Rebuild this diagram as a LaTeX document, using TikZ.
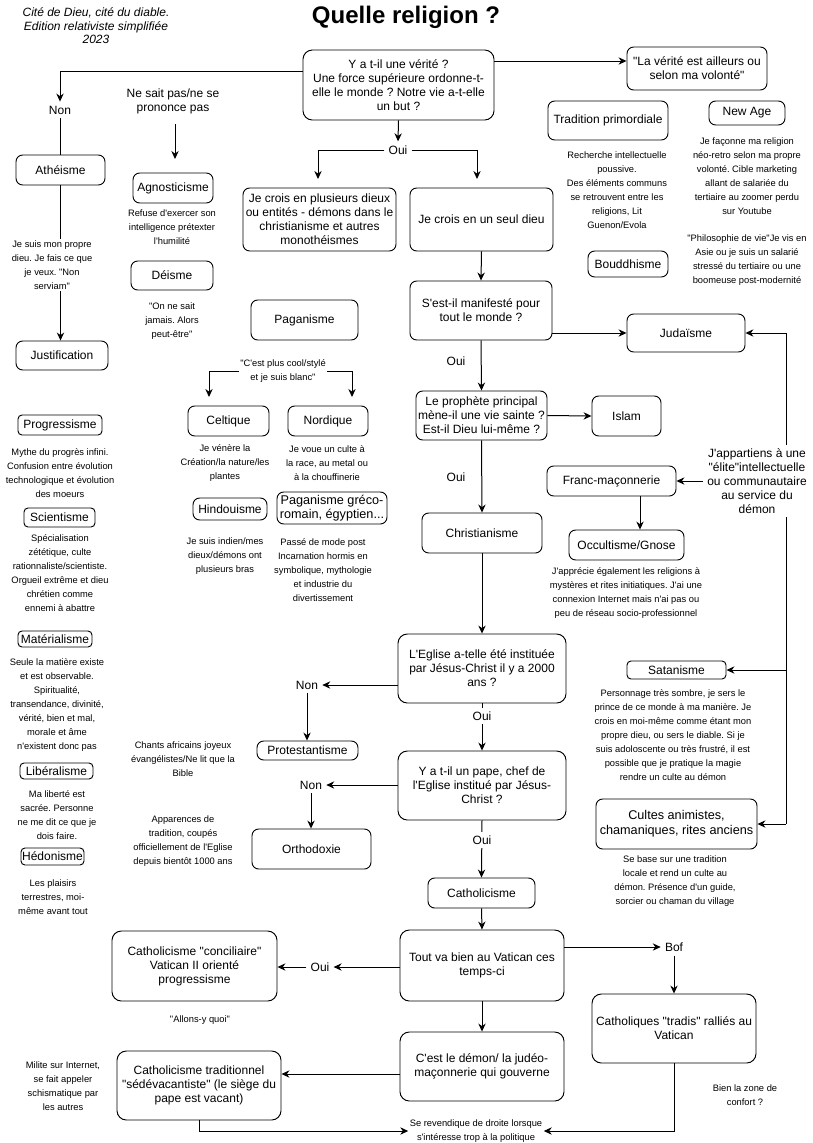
\documentclass[tikz,border=0pt]{standalone}
\usepackage{fontspec}
\newfontfamily\arialf{Liberation Sans}
\newcommand\myfs[2]{\arialf\fontsize{#1}{#2}\selectfont}
\usetikzlibrary{arrows.meta,backgrounds}
\newcommand\mkbox[7][box]{\node[#1, minimum width={(#5-#3)*0.75pt}, minimum height={(#6-#4)*0.75pt}] (#2) at ({(#3+#5)/2},{(#4+#6)/2}) {#7};}
\frenchspacing
\begin{document}
\frenchspacing
\begin{tikzpicture}[x=0.75pt,y=-0.75pt,
  font=\myfs{9}{10.5},
  box/.style={draw, line width=0.7pt, rounded corners=5pt, align=center, inner sep=0pt, font=\myfs{9}{10.5}},
  bigbox/.style={box, rounded corners=7pt},
  sbox/.style={box, rounded corners=3pt},
  bigfont/.style={font=\myfs{9.5}{11}},
  note/.style={align=center, inner sep=1pt, font=\myfs{7}{10.5}},
  lbl/.style={align=center, inner sep=3pt, fill=white, font=\myfs{9}{10.5}},
  arr/.style={line width=0.75pt, -{Stealth[length=6pt,width=5.5pt]}},
  ln/.style={line width=0.75pt}]
\useasboundingbox (0,0) rectangle (813,1143);
\begin{pgfonlayer}{background}
\fill[white] (0,0) rectangle (813,1143);
\end{pgfonlayer}

% ---------- titles
\node[font=\myfs{18}{20}\bfseries] (title) at (406,17) {Quelle religion ?};
\node[align=center, font=\myfs{9}{10.1}\itshape] (sub) at (96,26) {Cité de Dieu, cité du diable.\\ Edition relativiste simplifiée\\ 2023};

% ---------- top
\mkbox[bigbox]{q1}{303}{50}{494}{120}{Y a t-il une vérité ?\\ Une force supérieure ordonne-t-\\ elle le monde ? Notre vie a-t-elle\\ un but ?}
\mkbox{verite}{627}{47}{767}{90}{"La vérité est ailleurs ou\\ selon ma volonté"}
\mkbox{trad}{548}{101}{668}{140}{Tradition primordiale}
\node[note] (tradtxt) at (617,190) {Recherche intellectuelle\\ poussive.\\ Des éléments communs\\ se retrouvent entre les\\ religions, Lit\\ Guenon/Evola};
\mkbox{boud}{588}{251}{668}{277}{Bouddhisme}
\mkbox{newage}{709}{101}{785}{125}{New Age}
\node[note] (newagetxt) at (747,176) {Je façonne ma religion\\ néo-retro selon ma propre\\ volonté. Cible marketing\\ allant de salariée du\\ tertiaire au zoomer perdu\\ sur Youtube};
\node[note] (boudtxt) at (747,260) {"Philosophie de vie"Je vis en\\ Asie ou je suis un salarié\\ stressé du tertiaire ou une\\ boomeuse post-modernité};

% ---------- left top
\node[lbl] (non1) at (60,110) {Non};
\node[align=center] (nsp) at (173,101) {Ne sait pas/ne se\\ prononce pas};
\coordinate (agnoarr) at (175,159);
\mkbox{athe}{16}{155}{105}{185}{Athéisme}
\mkbox{agno}{133}{173}{213}{203}{Agnosticisme}
\node[note] (agnotxt) at (172,227) {Refuse d'exercer son\\ intelligence prétexter\\ l'humilité};
\mkbox{deisme}{131}{261}{213}{290}{Déisme}
\node[note] (deismetxt) at (172,321) {"On ne sait\\ jamais. Alors\\ peut-être"};
\node[note, fill=white] (athetxt) at (52,265) {Je suis mon propre\\ dieu. Je fais ce que\\ je veux. "Non\\ serviam"};
\mkbox{justif}{16}{341}{108}{370}{Justification}

% ---------- centre top
\node[lbl] (oui1) at (398,150) {Oui};
\coordinate (plusarr) at (318,179);
\coordinate (seularr) at (477,179);
\mkbox{plus}{243}{188}{396}{251}{Je crois en plusieurs dieux\\ ou entités - démons dans le\\ christianisme et autres\\ monothéismes}
\mkbox{seul}{410}{188}{553}{251}{Je crois en un seul dieu}
\mkbox{pagan}{251}{300}{358}{340}{Paganisme}
\node[note] (cool) at (283,371) {"C'est plus cool/stylé\\ et je suis blanc"};
\coordinate (celtarr) at (209,397);
\coordinate (nordarr) at (352,397);
\mkbox{celt}{188}{406}{269}{436}{Celtique}
\mkbox{nord}{288}{406}{368}{436}{Nordique}
\node[note] (celttxt) at (225,463) {Je vénère la\\ Création/la nature/les\\ plantes};
\node[note] (nordtxt) at (327,463) {Je voue un culte à\\ la race, au metal ou\\ à la chouffinerie};
\mkbox{hindou}{193}{498}{267}{520}{Hindouisme}
\mkbox[box,bigfont]{greco}{277}{492}{387}{524}{Paganisme gréco-\\ romain, égyptien...}
\node[note] (hindoutxt) at (225,556) {Je suis indien/mes\\ dieux/démons ont\\ plusieurs bras};
\node[note] (grecotxt) at (323,570) {Passé de mode post\\ Incarnation hormis en\\ symbolique, mythologie\\ et industrie du\\ divertissement};

% ---------- right centre
\mkbox{manif}{410}{281}{552}{340}{S'est-il manifesté pour\\ tout le monde ?}
\mkbox{juda}{627}{314}{745}{352}{Judaïsme}
\node[align=center] (oui2) at (456,361) {Oui};
\mkbox{proph}{416}{391}{547}{440}{Le prophète principal\\ mène-il une vie sainte ?\\ Est-il Dieu lui-même ?}
\mkbox{islam}{592}{396}{661}{436}{Islam}
\node[align=center] (oui3) at (456,477) {Oui};
\mkbox{christ}{422}{513}{542}{553}{Christianisme}
\node[lbl] (elite) at (757,481) {J'appartiens à une\\ "élite"intellectuelle\\ ou communautaire\\ au service du\\ démon};
\mkbox{franc}{547}{466}{676}{496}{Franc-maçonnerie}
\mkbox{occ}{569}{530}{684}{560}{Occultisme/Gnose}
\node[note] (occtxt) at (626,593) {J'apprécie également les religions à\\ mystères et rites initiatiques. J'ai une\\ connexion Internet mais n'ai pas ou\\ peu de réseau socio-professionnel};
\coordinate (rv) at (786,0);
\coordinate (fo) at (640,0);

% ---------- lower centre
\mkbox[bigbox]{eglise}{398}{634}{566}{703}{L'Eglise a-telle été instituée\\ par Jésus-Christ il y a 2000\\ ans ?}
\node[lbl] (non2) at (307,685) {Non};
\mkbox{protest}{257}{741}{358}{760}{Protestantisme}
\node[note] (chants) at (183,759) {Chants africains joyeux\\ évangélistes/Ne lit que la\\ Bible};
\node[lbl] (oui4) at (482,716) {Oui};
\mkbox[bigbox]{pape}{398}{751}{566}{820}{Y a t-il un pape, chef de\\ l'Eglise institué par Jésus-\\ Christ ?}
\node[lbl] (non3) at (311,785) {Non};
\mkbox{ortho}{252}{829}{371}{869}{Orthodoxie}
\node[note] (appar) at (183,841) {Apparences de\\ tradition, coupés\\ officiellement de l'Eglise\\ depuis bientôt 1000 ans};
\node[lbl] (oui5) at (482,840) {Oui};
\mkbox{catho}{428}{878}{535}{908}{Catholicisme}

% ---------- right lower
\mkbox[sbox]{satan}{627}{661}{726}{679}{Satanisme}
\node[note] (satantxt) at (673,735) {Personnage très sombre, je sers le\\ prince de ce monde à ma manière. Je\\ crois en moi-même comme étant mon\\ propre dieu, ou sers le diable. Si je\\ suis adoloscente ou très frustré, il est\\ possible que je pratique la magie\\ rendre un culte au démon};
\mkbox[box,bigfont]{cultes}{596}{799}{757}{849}{Cultes animistes,\\ chamaniques, rites anciens}
\node[note] (cultestxt) at (675,881) {Se base sur une tradition\\ locale et rend un culte au\\ démon. Présence d'un guide,\\ sorcier ou chaman du village};

% ---------- bottom
\mkbox[bigbox]{vatican}{400}{930}{564}{1001}{Tout va bien au Vatican ces\\ temps-ci}
\node[lbl] (bof) at (674,947) {Bof};
\mkbox[bigbox]{tradis}{592}{994}{756}{1063}{Catholiques "tradis" ralliés au\\ Vatican}
\node[note] (zone) at (745,1095) {Bien la zone de\\ confort ?};
\node[lbl] (oui6) at (320,967) {Oui};
\mkbox[bigbox]{concil}{112}{931}{277}{1001}{Catholicisme "conciliaire"\\ Vatican II orienté\\ progressisme}
\node[note] (allons) at (200,1020) {"Allons-y quoi"};
\mkbox[bigbox]{demon}{400}{1032}{564}{1101}{C'est le démon/ la judéo-\\ maçonnerie qui gouverne}
\mkbox[bigbox]{sedev}{117}{1051}{281}{1120}{Catholicisme traditionnel\\ "sédévacantiste" (le siège du\\ pape est vacant)}
\node[note] (milite) at (63,1086) {Milite sur Internet,\\ se fait appeler\\ schismatique par\\ les autres};
\node[note] (droite) at (476,1131) {Se revendique de droite lorsque\\ s'intéresse trop à la politique};
\coordinate (ds) at (0,1074);
\coordinate (qn) at (60,71);
\coordinate (qv) at (0,61);

% ---------- left column
\mkbox[sbox]{progr}{18}{415}{102}{435}{Progressisme}
\node[note] (progrtxt) at (60,473) {Mythe du progrès infini.\\ Confusion entre évolution\\ technologique et évolution\\ des moeurs};
\mkbox[sbox]{scient}{24}{508}{95}{527}{Scientisme}
\node[note] (scienttxt) at (60,573) {Spécialisation\\ zététique, culte\\ rationnaliste/scientiste.\\ Orgueil extrême et dieu\\ chrétien comme\\ ennemi à abattre};
\mkbox[sbox]{mater}{18}{631}{92}{647}{Matérialisme}
\node[note] (matertxt) at (57,705) {Seule la matière existe\\ et est observable.\\ Spiritualité,\\ transendance, divinité,\\ vérité, bien et mal,\\ morale et âme\\ n'existent donc pas};
\mkbox[sbox]{liber}{20}{763}{93}{779}{Libéralisme}
\node[note] (libertxt) at (57,815) {Ma liberté est\\ sacrée. Personne\\ ne me dit ce que je\\ dois faire.};
\mkbox[sbox]{hedon}{21}{848}{84}{865}{Hédonisme}
\node[note] (hedontxt) at (53,897) {Les plaisirs\\ terrestres, moi-\\ même avant tout};

% ---------- connectors
\begin{pgfonlayer}{background}
\draw[arr] (q1.west |- qn) -- (qn) -- (non1.north);
\draw[arr] (q1.east |- qv) -- (verite.west |- qv);
\draw[ln] (non1.south) -- (non1.south |- athe.north);
\draw[arr] (athe.south) -- (athe.south |- justif.north);
\draw[arr] (nsp.south) ++(2,6) -- (agnoarr);
\draw[arr] (q1.south) -- (oui1.north);
\draw[arr] (oui1.west) -| (plusarr);
\draw[arr] (oui1.east) -| (seularr);
\draw[arr] (cool.west) -| (celtarr);
\draw[arr] (cool.east) -| (nordarr);
\draw[arr] (seul.south) -- (manif.north);
\draw[arr] (manif.east |- juda.west) -- (juda.west);
\draw[arr] (manif.south) -- (proph.north);
\draw[arr] (proph.east) -- (islam.west);
\draw[arr] (proph.south) -- (christ.north);
\draw[arr] (christ.south) -- (eglise.north);
\draw[ln] (juda.east -| rv) -- (cultes.east -| rv);
\draw[arr] (juda.east -| rv) -- (juda.east);
\draw[arr] (satan.east -| rv) -- (satan.east);
\draw[arr] (cultes.east -| rv) -- (cultes.east);
\draw[arr] (elite.west |- franc.east) -- (franc.east);
\draw[arr] (franc.south -| fo) -- (occ.north -| fo);
\draw[arr] (eglise.west |- non2.east) -- (non2.east);
\draw[arr] (non2.south) -- (non2.south |- protest.north);
\draw[arr] (eglise.south) -- (pape.north);
\draw[arr] (pape.west |- non3.east) -- (non3.east);
\draw[arr] (non3.south) -- (non3.south |- ortho.north);
\draw[arr] (pape.south) -- (catho.north);
\draw[arr] (catho.south) -- (vatican.north);
\draw[arr] (vatican.east |- bof.west) -- (bof.west);
\draw[arr] (bof.south) -- (tradis.north);
\draw[arr] (tradis.south) |- (droite.east);
\draw[arr] (vatican.west |- oui6.east) -- (oui6.east);
\draw[arr] (oui6.west) -- (concil.east |- oui6.west);
\draw[arr] (vatican.south) -- (demon.north);
\draw[arr] (demon.west |- ds) -- (sedev.east |- ds);
\draw[arr] (sedev.south) |- (droite.west);
\end{pgfonlayer}
\end{tikzpicture}
\end{document}
